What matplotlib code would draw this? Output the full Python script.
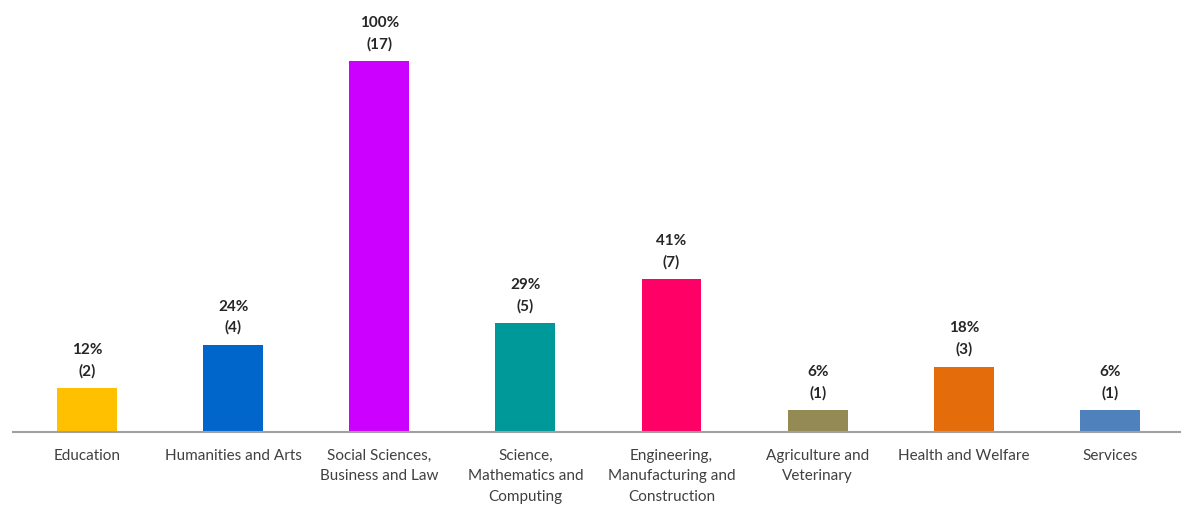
import matplotlib.pyplot as plt
import numpy as np

categories = ["Education", "Humanities and Arts", "Social Sciences,\nBusiness and Law",
              "Science,\nMathematics and\nComputing", "Engineering,\nManufacturing and\nConstruction",
              "Agriculture and\nVeterinary", "Health and Welfare", "Services"]
counts = [2, 4, 17, 5, 7, 1, 3, 1]
percents = [12, 24, 100, 29, 41, 6, 18, 6]
colors = ["#FFC000", "#0066CC", "#CC00FF", "#009999", "#FF0066", "#948A54", "#E46C0A", "#4F81BD"]

plt.rcParams['font.family'] = ['Lato', 'DejaVu Sans']

fig = plt.figure(figsize=(11.81, 5.05), dpi=100, facecolor='white')
ax = fig.add_axes([0.011, 0.1446, 0.989, 0.8554])

x = np.arange(len(categories))
bars = ax.bar(x, counts, width=0.41, color=colors)

for rect, c, p in zip(bars, counts, percents):
    ax.annotate(f"{p}%\n({c})", (rect.get_x() + rect.get_width() / 2, c),
                xytext=(0, 7), textcoords='offset points', ha='center', va='bottom',
                fontsize=11, fontweight='bold', color='#262626', linespacing=1.6)

ax.set_xlim(-0.506, 7.486)
ax.set_ylim(0, 19.8)
ax.set_xticks(x)
ax.set_xticklabels(categories, fontsize=11, color='#404040', linespacing=1.6)
ax.tick_params(axis='x', length=0, pad=12)
ax.set_yticks([])
for s in ['top', 'right', 'left']:
    ax.spines[s].set_visible(False)
ax.spines['bottom'].set_color('#A0A0A0')
ax.spines['bottom'].set_linewidth(1.5)

fig.savefig('out.png', dpi=100, facecolor='white')
